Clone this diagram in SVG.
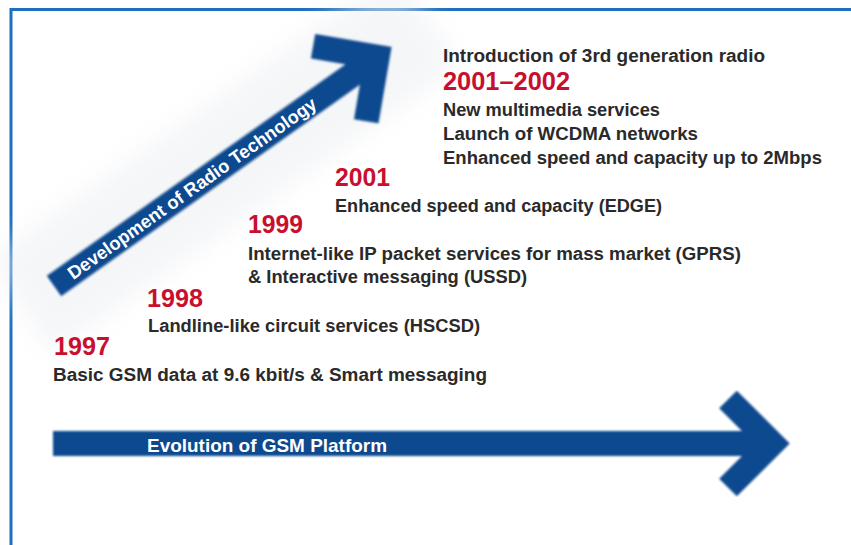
<svg xmlns="http://www.w3.org/2000/svg" width="851" height="545" viewBox="0 0 851 545">
  <style>
    .txt { font-family: "Liberation Sans", Arial, sans-serif; font-weight: bold; font-size: 18px; fill: #2a2a2a; }
    .yr { font-family: "Liberation Sans", Arial, sans-serif; font-weight: bold; font-size: 25px; fill: #c8102e; }
    .wt { font-family: "Liberation Sans", Arial, sans-serif; font-weight: bold; font-size: 18.5px; fill: #ffffff; }
    .shaft { stroke: #0e4a8f; stroke-width: 25; fill: none; stroke-linecap: butt; }
    .head { stroke: #0e4a8f; stroke-width: 25; fill: none; stroke-linejoin: miter; stroke-linecap: butt; stroke-miterlimit: 4; }
  </style>
  <defs>
    <filter id="soft" x="-10%" y="-10%" width="120%" height="120%">
      <feGaussianBlur stdDeviation="1.2"/>
    </filter>
    <filter id="haze" x="-30%" y="-60%" width="160%" height="220%">
      <feGaussianBlur stdDeviation="12"/>
    </filter>
  </defs>
  <rect width="851" height="545" fill="#ffffff"/>
  <path d="M11,545 V9.5 H851" fill="none" stroke="#1d6fbf" stroke-width="3"/>

  <g id="connectors">
    <g id="radio-arrow" transform="translate(54,286) rotate(-35.3)">
      <rect x="-40" y="-60" width="500" height="115" fill="#eceef2" opacity="0.5" filter="url(#haze)"/>
      <g filter="url(#soft)">
        <line class="shaft" x1="0" y1="0" x2="392" y2="0"/>
        <polyline class="head" points="350,-46 396,0 350,46"/>
      </g>
      <text class="wt" x="19" y="6.5" textLength="300" lengthAdjust="spacingAndGlyphs">Development of Radio Technology</text>
    </g>
    <g id="gsm-arrow">
      <g filter="url(#soft)">
        <line class="shaft" x1="53" y1="443.5" x2="768" y2="443.5"/>
        <polyline class="head" points="728,399.5 772,443.5 728,487.5"/>
      </g>
      <text class="wt" x="147" y="452" textLength="240" lengthAdjust="spacingAndGlyphs">Evolution of GSM Platform</text>
    </g>
  </g>

  <g id="node-2001-2002">
    <text class="txt" x="443" y="62" textLength="322" lengthAdjust="spacingAndGlyphs">Introduction of 3rd generation radio</text>
    <text class="yr" x="443" y="90" textLength="127" lengthAdjust="spacingAndGlyphs">2001–2002</text>
    <text class="txt" x="443" y="116" textLength="217" lengthAdjust="spacingAndGlyphs">New multimedia services</text>
    <text class="txt" x="443" y="140" textLength="255" lengthAdjust="spacingAndGlyphs">Launch of WCDMA networks</text>
    <text class="txt" x="443" y="164" textLength="379" lengthAdjust="spacingAndGlyphs">Enhanced speed and capacity up to 2Mbps</text>
  </g>
  <g id="node-2001">
    <text class="yr" x="335" y="186" textLength="55" lengthAdjust="spacingAndGlyphs">2001</text>
    <text class="txt" x="335" y="212" textLength="327" lengthAdjust="spacingAndGlyphs">Enhanced speed and capacity (EDGE)</text>
  </g>
  <g id="node-1999">
    <text class="yr" x="248" y="233" textLength="55" lengthAdjust="spacingAndGlyphs">1999</text>
    <text class="txt" x="248" y="260" textLength="493" lengthAdjust="spacingAndGlyphs">Internet-like IP packet services for mass market (GPRS)</text>
    <text class="txt" x="248" y="283" textLength="279" lengthAdjust="spacingAndGlyphs">&amp; Interactive messaging (USSD)</text>
  </g>
  <g id="node-1998">
    <text class="yr" x="147" y="307" textLength="56" lengthAdjust="spacingAndGlyphs">1998</text>
    <text class="txt" x="148" y="332" textLength="332" lengthAdjust="spacingAndGlyphs">Landline-like circuit services (HSCSD)</text>
  </g>
  <g id="node-1997">
    <text class="yr" x="54" y="355" textLength="56" lengthAdjust="spacingAndGlyphs">1997</text>
    <text class="txt" x="53" y="381" textLength="434" lengthAdjust="spacingAndGlyphs">Basic GSM data at 9.6 kbit/s &amp; Smart messaging</text>
  </g>
</svg>
